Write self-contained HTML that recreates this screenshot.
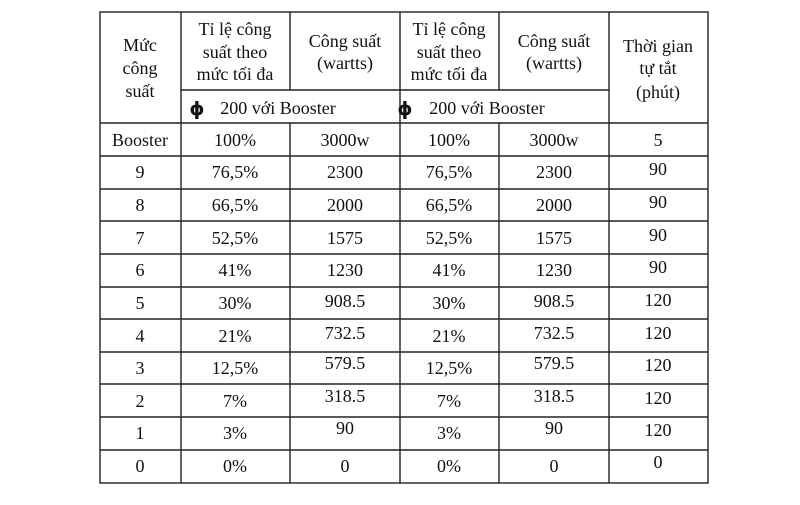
<!DOCTYPE html>
<html><head><meta charset="utf-8"><style>
body{margin:0;background:#fff}
svg text{font-family:"Liberation Serif",serif;font-size:18px;fill:#111;text-anchor:middle}
svg text.phi{font-family:"DejaVu Sans",sans-serif;font-weight:bold;font-size:19px}
</style></head><body>
<svg width="800" height="500" xmlns="http://www.w3.org/2000/svg">
<g stroke="#222" stroke-width="1.4" fill="none">
<rect x="100" y="12" width="608" height="471"/>
<line x1="181" y1="12" x2="181" y2="483"/>
<line x1="290" y1="12" x2="290" y2="90"/>
<line x1="290" y1="123" x2="290" y2="483"/>
<line x1="400" y1="12" x2="400" y2="483"/>
<line x1="499" y1="12" x2="499" y2="90"/>
<line x1="499" y1="123" x2="499" y2="483"/>
<line x1="609" y1="12" x2="609" y2="483"/>
<line x1="181" y1="90" x2="609" y2="90"/>
<line x1="100" y1="123" x2="708" y2="123"/>
<line x1="100" y1="156" x2="708" y2="156"/>
<line x1="100" y1="189" x2="708" y2="189"/>
<line x1="100" y1="221" x2="708" y2="221"/>
<line x1="100" y1="254" x2="708" y2="254"/>
<line x1="100" y1="287" x2="708" y2="287"/>
<line x1="100" y1="319" x2="708" y2="319"/>
<line x1="100" y1="352" x2="708" y2="352"/>
<line x1="100" y1="384" x2="708" y2="384"/>
<line x1="100" y1="417" x2="708" y2="417"/>
<line x1="100" y1="450" x2="708" y2="450"/>
</g>
<text x="140" y="51">Mức</text><text x="140" y="74">công</text><text x="140" y="97">suất</text>
<text x="235" y="35">Tỉ lệ công</text><text x="235" y="58">suất theo</text><text x="235" y="80">mức tối đa</text>
<text x="345" y="47">Công suất</text><text x="345" y="69">(wartts)</text>
<text x="449" y="35">Tỉ lệ công</text><text x="449" y="58">suất theo</text><text x="449" y="80">mức tối đa</text>
<text x="554" y="47">Công suất</text><text x="554" y="69">(wartts)</text>
<text x="658" y="52">Thời gian</text><text x="658" y="74">tự tắt</text><text x="658" y="98">(phút)</text>
<text class="phi" x="197" y="115">ϕ</text><text x="278" y="114">200 với Booster</text>
<text class="phi" x="405" y="115">ϕ</text><text x="487" y="114">200 với Booster</text>
<g>
<text x="140" y="146">Booster</text><text x="235" y="146">100%</text><text x="345" y="146">3000w</text><text x="449" y="146">100%</text><text x="554" y="146">3000w</text><text x="658" y="146">5</text>
<text x="140" y="178">9</text><text x="235" y="178">76,5%</text><text x="345" y="178">2300</text><text x="449" y="178">76,5%</text><text x="554" y="178">2300</text><text x="658" y="175">90</text>
<text x="140" y="211">8</text><text x="235" y="211">66,5%</text><text x="345" y="211">2000</text><text x="449" y="211">66,5%</text><text x="554" y="211">2000</text><text x="658" y="208">90</text>
<text x="140" y="244">7</text><text x="235" y="244">52,5%</text><text x="345" y="244">1575</text><text x="449" y="244">52,5%</text><text x="554" y="244">1575</text><text x="658" y="241">90</text>
<text x="140" y="276">6</text><text x="235" y="276">41%</text><text x="345" y="276">1230</text><text x="449" y="276">41%</text><text x="554" y="276">1230</text><text x="658" y="273">90</text>
<text x="140" y="309">5</text><text x="235" y="309">30%</text><text x="345" y="307">908.5</text><text x="449" y="309">30%</text><text x="554" y="307">908.5</text><text x="658" y="306">120</text>
<text x="140" y="342">4</text><text x="235" y="342">21%</text><text x="345" y="339">732.5</text><text x="449" y="342">21%</text><text x="554" y="339">732.5</text><text x="658" y="339">120</text>
<text x="140" y="374">3</text><text x="235" y="374">12,5%</text><text x="345" y="369">579.5</text><text x="449" y="374">12,5%</text><text x="554" y="369">579.5</text><text x="658" y="371">120</text>
<text x="140" y="407">2</text><text x="235" y="407">7%</text><text x="345" y="402">318.5</text><text x="449" y="407">7%</text><text x="554" y="402">318.5</text><text x="658" y="404">120</text>
<text x="140" y="439">1</text><text x="235" y="439">3%</text><text x="345" y="434">90</text><text x="449" y="439">3%</text><text x="554" y="434">90</text><text x="658" y="436">120</text>
<text x="140" y="472">0</text><text x="235" y="472">0%</text><text x="345" y="472">0</text><text x="449" y="472">0%</text><text x="554" y="472">0</text><text x="658" y="468">0</text>
</g>
</svg>
</body></html>
